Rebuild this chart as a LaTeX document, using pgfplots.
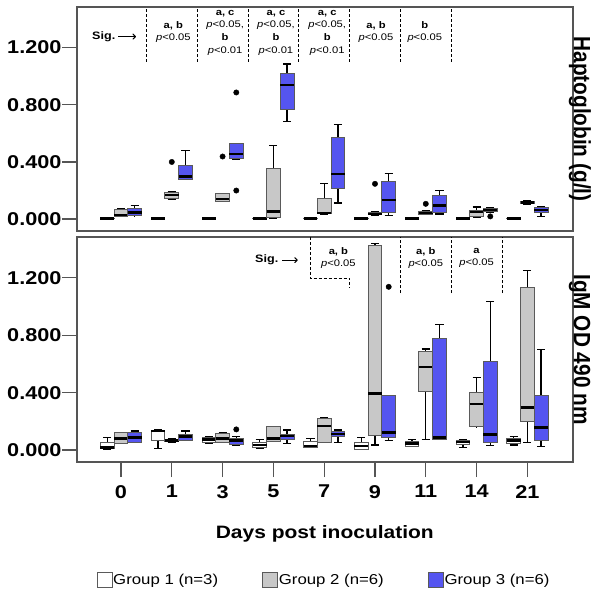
\documentclass[border=0pt]{standalone}
\usepackage{pgfplots}
\pgfplotsset{compat=1.18}
\usepgfplotslibrary{statistics}
\usetikzlibrary{arrows.meta}
\usepackage{fontspec}
\setmainfont{Liberation Sans}[FakeStretch=1.17]
\newfontfamily\rotfont{Liberation Sans}[FakeStretch=0.88]
\definecolor{gblue}{RGB}{85,85,240}
\definecolor{ggray}{RGB}{200,200,200}
\definecolor{edge}{RGB}{90,90,90}
\definecolor{axc}{RGB}{85,85,85}
\tikzset{
  annline/.style={draw=black, line width=0.7bp, dash pattern=on 3bp off 2bp},
  ann/.style={font=\fontsize{9.6}{12.7}\selectfont, align=center, inner sep=0pt},
  sig/.style={font=\bfseries\fontsize{10.8}{12}\selectfont, inner sep=0pt},
  sigarrow/.style={-{To[length=3.5bp,width=6bp]}, line width=1bp},
}
\pgfplotsset{
  g1/.style={fill=white},
  g2/.style={fill=ggray},
  g3/.style={fill=gblue},
  myax/.style={
    scale only axis, width=496bp,
    xmin=-0.866, xmax=8.898, ymin=-0.083, ymax=1.484,
    ytick={0,0.4,0.8,1.2},
    tick pos=left, tick align=outside, major tick length=15bp,
    axis line style={draw=axc, line width=1.5bp},
    tick style={draw=axc, line width=1.3bp},
    /pgf/number format/assume math mode=true,
    yticklabel style={font=\bfseries\fontsize{18.6}{18}\selectfont, inner sep=0.3bp,
      /pgf/number format/.cd, fixed, fixed zerofill, precision=3},
    boxplot/draw direction=y,
    boxplot/box extend=0.27,
    boxplot/whisker extend=0.16,
    boxplot/every box/.style={draw=edge, line width=0.9bp},
    boxplot/every whisker/.style={draw=black, line width=1.3bp},
    boxplot/every median/.style={draw=black, line width=2.5bp},
    clip=false,
  },
}
\newcommand{\bp}[8]{\addplot[forget plot, #1, mark=*, mark size=2.7bp,
  mark options={fill=black, draw=black, solid},
  boxplot prepared={draw position=#2, lower whisker=#3, lower quartile=#4,
  median=#5, upper quartile=#6, upper whisker=#7}] coordinates {#8};}
\begin{document}
\begin{tikzpicture}
\useasboundingbox (0,0) rectangle (600bp,593bp);
% ---------------- Haptoglobin ----------------
\begin{axis}[myax, height=224bp, at={(77bp,362bp)}, anchor=south west, xtick=\empty]
% day 0
\bp{g1}{-0.27}{0.002}{0.003}{0.004}{0.005}{0.006}{}
\bp{g2}{0}{0.020}{0.022}{0.030}{0.070}{0.075}{}
\bp{g3}{0.27}{0.023}{0.025}{0.045}{0.072}{0.096}{}
% day 1
\bp{g1}{0.73}{0.002}{0.003}{0.004}{0.005}{0.006}{}
\bp{g2}{1}{0.135}{0.147}{0.170}{0.186}{0.190}{(0,0.400)}
\bp{g3}{1.27}{0.275}{0.278}{0.298}{0.378}{0.478}{}
% day 3
\bp{g1}{1.73}{0.002}{0.003}{0.004}{0.005}{0.006}{}
\bp{g2}{2}{0.124}{0.126}{0.142}{0.177}{0.180}{(0,0.438)}
\bp{g3}{2.27}{0.420}{0.422}{0.457}{0.527}{0.530}{(0,0.886) (0,0.200)}
% day 5
\bp{g1}{2.73}{0.002}{0.003}{0.004}{0.005}{0.006}{}
\bp{g2}{3}{0.007}{0.014}{0.054}{0.357}{0.515}{}
\bp{g3}{3.27}{0.683}{0.765}{0.939}{1.016}{1.086}{}
% day 7
\bp{g1}{3.73}{0.002}{0.003}{0.004}{0.005}{0.006}{}
\bp{g2}{4}{0.035}{0.037}{0.042}{0.142}{0.247}{}
\bp{g3}{4.27}{0.112}{0.214}{0.315}{0.571}{0.664}{}
% day 9
\bp{g1}{4.73}{0.002}{0.003}{0.004}{0.005}{0.006}{}
\bp{g2}{5}{0.023}{0.030}{0.035}{0.047}{0.050}{(0,0.247)}
\bp{g3}{5.27}{0.023}{0.049}{0.135}{0.263}{0.317}{}
% day 11
\bp{g1}{5.73}{0.002}{0.003}{0.004}{0.005}{0.006}{}
\bp{g2}{6}{0.030}{0.035}{0.042}{0.054}{0.060}{(0,0.107)}
\bp{g3}{6.27}{0.035}{0.049}{0.096}{0.165}{0.198}{}
% day 14
\bp{g1}{6.73}{0.002}{0.003}{0.004}{0.005}{0.006}{}
\bp{g2}{7}{0.014}{0.020}{0.050}{0.061}{0.084}{}
\bp{g3}{7.27}{0.050}{0.054}{0.065}{0.077}{0.080}{(0,0.019)}
% day 21
\bp{g1}{7.73}{0.002}{0.003}{0.004}{0.005}{0.006}{}
\bp{g2}{8}{0.105}{0.110}{0.117}{0.124}{0.128}{}
\bp{g3}{8.27}{0.019}{0.045}{0.065}{0.084}{0.089}{}
% annotations
\draw[annline] (axis cs:0.5,1.10) -- (axis cs:0.5,1.484);
\draw[annline] (axis cs:1.5,1.10) -- (axis cs:1.5,1.484);
\draw[annline] (axis cs:2.5,1.10) -- (axis cs:2.5,1.484);
\draw[annline] (axis cs:3.5,1.10) -- (axis cs:3.5,1.484);
\draw[annline] (axis cs:4.5,1.10) -- (axis cs:4.5,1.484);
\draw[annline] (axis cs:5.5,1.10) -- (axis cs:5.5,1.484);
\draw[annline] (axis cs:6.5,1.10) -- (axis cs:6.5,1.484);
\node[sig] at (axis cs:-0.339,1.277) {Sig.};
\draw[sigarrow] (axis cs:-0.05,1.277) -- (axis cs:0.295,1.277);
\node[ann] at (axis cs:1.03,1.31) {\textbf{a, b}\\\textit{p}<0.05};
\node[ann] at (axis cs:2.05,1.305) {\textbf{a, c}\\\textit{p}<0.05,\\\textbf{b}\\\textit{p}<0.01};
\node[ann] at (axis cs:3.05,1.305) {\textbf{a, c}\\\textit{p}<0.05,\\\textbf{b}\\\textit{p}<0.01};
\node[ann] at (axis cs:4.06,1.305) {\textbf{a, c}\\\textit{p}<0.05,\\\textbf{b}\\\textit{p}<0.01};
\node[ann] at (axis cs:5.02,1.31) {\textbf{a, b}\\\textit{p}<0.05};
\node[ann] at (axis cs:5.98,1.31) {\textbf{b}\\\textit{p}<0.05};
\node[rotate=-90, anchor=base, inner sep=0pt, font=\rotfont\bfseries\fontsize{23.7}{24}\selectfont]
  at (rel axis cs:1.002,0.5) {Haptoglobin (g/l)};
\end{axis}
% ---------------- IgM ----------------
\begin{axis}[myax, height=225bp, at={(77bp,131bp)}, anchor=south west,
  xtick={0,1,2,3,4,5,6,7,8}, xticklabels={0,1,3,5,7,9,11,14,21},
  xticklabel style={font=\bfseries\fontsize{18.6}{18}\selectfont, inner sep=0pt, yshift=-8bp},
  xlabel={Days post inoculation},
  xlabel style={font=\bfseries\fontsize{18}{20}\selectfont, at={(axis description cs:0.4996,-0.319)}, anchor=center},
  legend style={at={(axis description cs:0.496,-0.523)}, anchor=center, draw=none, fill=none,
    legend columns=3, font=\fontsize{14.4}{16}\selectfont, nodes={inner sep=0pt},
    /tikz/every even column/.append style={column sep=44bp},
    /tikz/every odd column/.append style={column sep=0.5bp}},
  legend image code/.code={\draw[#1, line width=1.2bp] (0bp,-7.5bp) rectangle (15bp,7.5bp);},
]
% day 0
\bp{g1}{-0.27}{0.007}{0.009}{0.019}{0.053}{0.088}{}
\bp{g2}{0}{0.046}{0.048}{0.081}{0.121}{0.123}{}
\bp{g3}{0.27}{0.053}{0.055}{0.088}{0.123}{0.132}{}
% day 1
\bp{g1}{0.73}{0.012}{0.065}{0.132}{0.139}{0.144}{}
\bp{g2}{1}{0.053}{0.060}{0.065}{0.072}{0.077}{}
\bp{g3}{1.27}{0.065}{0.067}{0.093}{0.111}{0.132}{}
% day 3
\bp{g1}{1.73}{0.046}{0.050}{0.074}{0.088}{0.093}{}
\bp{g2}{2}{0.053}{0.055}{0.081}{0.116}{0.120}{}
\bp{g3}{2.27}{0.035}{0.042}{0.065}{0.081}{0.093}{(0,0.144)}
% day 5
\bp{g1}{2.73}{0.012}{0.019}{0.035}{0.053}{0.074}{}
\bp{g2}{3}{0.058}{0.060}{0.081}{0.162}{0.164}{}
\bp{g3}{3.27}{0.046}{0.074}{0.097}{0.111}{0.139}{}
% day 7
\bp{g1}{3.73}{0.019}{0.021}{0.028}{0.058}{0.081}{}
\bp{g2}{4}{0.053}{0.055}{0.167}{0.221}{0.227}{}
\bp{g3}{4.27}{0.053}{0.093}{0.111}{0.128}{0.139}{}
% day 9
\bp{g1}{4.73}{0.005}{0.007}{0.030}{0.053}{0.088}{}
\bp{g2}{5}{0.035}{0.100}{0.395}{1.423}{1.439}{}
\bp{g3}{5.27}{0.065}{0.088}{0.121}{0.378}{0.380}{(0,1.137)}
% day 11
\bp{g1}{5.73}{0.023}{0.028}{0.046}{0.058}{0.074}{}
\bp{g2}{6}{0.074}{0.411}{0.580}{0.689}{0.703}{}
\bp{g3}{6.27}{0.074}{0.076}{0.088}{0.778}{0.875}{}
% day 14
\bp{g1}{6.73}{0.019}{0.042}{0.058}{0.070}{0.072}{}
\bp{g2}{7}{0.162}{0.164}{0.320}{0.399}{0.504}{}
\bp{g3}{7.27}{0.030}{0.053}{0.107}{0.620}{1.033}{}
% day 21
\bp{g1}{7.73}{0.035}{0.046}{0.065}{0.081}{0.097}{}
\bp{g2}{8}{0.053}{0.202}{0.295}{1.133}{1.249}{}
\bp{g3}{8.27}{0.023}{0.065}{0.156}{0.378}{0.701}{}
% legend
\addlegendimage{fill=white, draw=edge}
\addlegendentry{Group 1 (n=3)}
\addlegendimage{fill=ggray, draw=edge}
\addlegendentry{Group 2 (n=6)}
\addlegendimage{fill=gblue, draw=edge}
\addlegendentry{Group 3 (n=6)}
% annotations
\node[sig] at (axis cs:2.87,1.323) {Sig.};
\draw[sigarrow] (axis cs:3.17,1.323) -- (axis cs:3.48,1.323);
\draw[annline] (axis cs:3.72,1.484) -- (axis cs:3.72,1.196) -- (axis cs:4.5,1.196) -- (axis cs:4.5,1.128);
\draw[annline] (axis cs:5.5,1.093) -- (axis cs:5.5,1.484);
\draw[annline] (axis cs:6.5,1.093) -- (axis cs:6.5,1.484);
\draw[annline] (axis cs:7.5,1.093) -- (axis cs:7.5,1.484);
\node[ann] at (axis cs:4.28,1.338) {\textbf{a, b}\\\textit{p}<0.05};
\node[ann] at (axis cs:6.0,1.338) {\textbf{a, b}\\\textit{p}<0.05};
\node[ann] at (axis cs:7.0,1.338) {\textbf{a}\\\textit{p}<0.05};
\node[rotate=-90, anchor=base, inner sep=0pt, font=\rotfont\bfseries\fontsize{23.7}{24}\selectfont]
  at (rel axis cs:1.002,0.5) {IgM OD 490 nm};
\end{axis}
\end{tikzpicture}
\end{document}
